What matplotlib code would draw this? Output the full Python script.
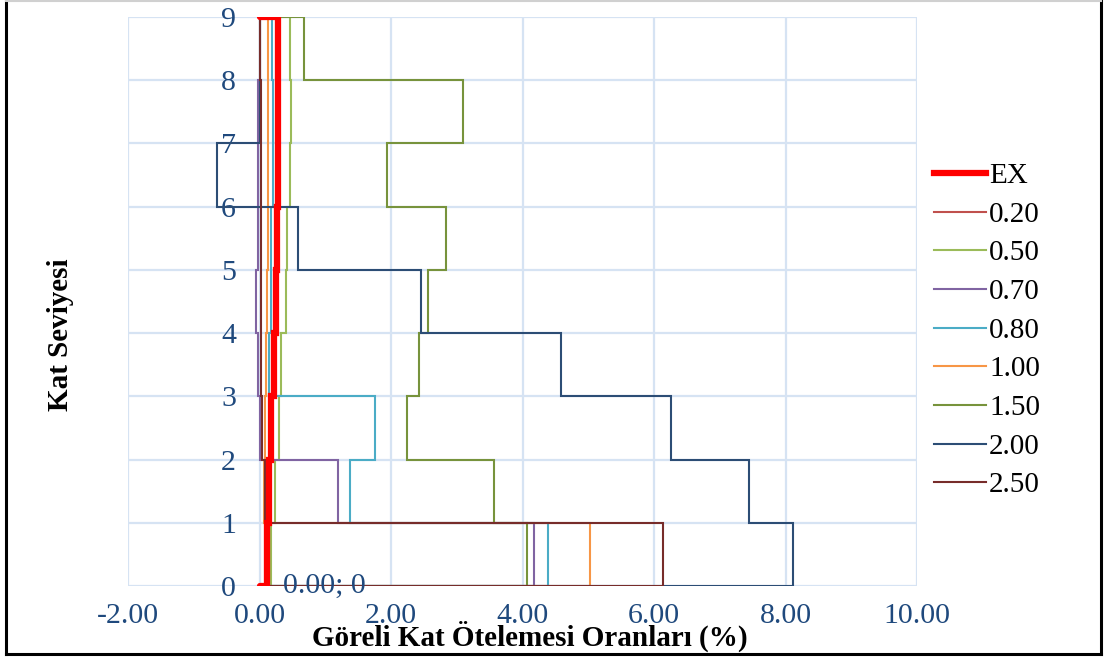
import numpy as np
import matplotlib
matplotlib.use("Agg")
import matplotlib.pyplot as plt
from matplotlib.lines import Line2D

plt.rcParams["font.family"] = ["Liberation Serif", "DejaVu Serif"]

# storey drift ratios (%) for storeys 1..9
floors = np.arange(0, 10)
labels = ["EX", "0.20", "0.50", "0.70", "0.80", "1.00", "1.50", "2.00", "2.50"]
drift_ex  = [0.11, 0.14, 0.18, 0.22, 0.25, 0.27, 0.28, 0.28, 0.28]
drift_020 = [0.09, 0.12, 0.16, 0.19, 0.22, 0.24, 0.25, 0.25, 0.25]
drift_050 = [0.17, 0.23, 0.29, 0.33, 0.40, 0.42, 0.47, 0.48, 0.47]
drift_070 = [4.18, 1.20, 0.01, -0.03, -0.05, -0.03, -0.03, -0.03, 0.01]
drift_080 = [4.39, 1.37, 1.75, 0.14, 0.17, 0.18, 0.20, 0.20, 0.19]
drift_100 = [5.03, 0.07, 0.08, 0.10, 0.12, 0.13, 0.13, 0.13, 0.13]
drift_150 = [4.07, 3.57, 2.25, 2.42, 2.57, 2.84, 1.94, 3.10, 0.67]
drift_200 = [8.12, 7.45, 6.26, 4.59, 2.45, 0.58, -0.65, 0.01, 0.01]
drift_250 = [6.14, 0.09, 0.04, 0.03, 0.03, 0.03, 0.03, 0.02, 0.01]

series = [drift_ex, drift_020, drift_050, drift_070, drift_080,
          drift_100, drift_150, drift_200, drift_250]
colors = ["#FF0000", "#C0504D", "#9BBB59", "#8064A2", "#4BACC6",
          "#F79646", "#77933C", "#2C4D75", "#772C2A"]
widths = [4.5, 1.5, 1.5, 1.5, 1.5, 1.5, 1.5, 1.5, 1.5]

tick_col = "#1F497D"
grid_col = "#D6E3F3"


def step_profile(d):
    # each storey drift drawn as a vertical segment between its two floor levels
    d = np.asarray(d)
    xs = np.concatenate(([0.0], np.repeat(d, 2), [0.0]))
    ys = np.concatenate(([0.0], np.repeat(floors, 2)[1:-1], [floors[-1]]))
    return xs, ys


fig = plt.figure(figsize=(11.07, 6.61), dpi=100)
ax = fig.add_axes([128 / 1107, 1 - 586 / 661, (917 - 128) / 1107, (586 - 17) / 661])

order = list(range(1, len(series))) + [0]
for i in order:
    xs, ys = step_profile(series[i])
    ax.plot(xs, ys, color=colors[i], lw=widths[i], zorder=5 if i == 0 else 3,
            solid_capstyle="round" if i == 0 else "projecting",
            solid_joinstyle="miter")

ax.set_xlim(-2, 10)
ax.set_ylim(0, 9)
ax.set_xticks(np.arange(-2, 10.01, 2))
ax.set_xticklabels([f"{v:.2f}" for v in np.arange(-2, 10.01, 2)])
ax.set_yticks(floors)
ax.grid(True, color=grid_col, lw=1.6, zorder=0)
ax.set_axisbelow(True)

for s in ax.spines.values():
    s.set_color("none")
ax.spines["left"].set_position(("data", 0))
ax.tick_params(axis="both", length=0, labelsize=21.5, labelcolor=tick_col)
ax.tick_params(axis="x", pad=12)
ax.tick_params(axis="y", pad=17)

ax.text(0.36, 0, "0.00; 0", color=tick_col, fontsize=21.5, ha="left", va="center",
        zorder=6)

fig.text(60 / 1107, 1 - 335 / 661, "Kat Seviyesi", rotation=90, fontsize=21,
         fontweight="bold", ha="center", va="center")
fig.text(530 / 1107, 1 - 636 / 661, "Göreli Kat Ötelemesi Oranları (%)",
         fontsize=21, fontweight="bold", ha="center", va="center")

handles = [Line2D([0], [0], color=c, lw=w) for c, w in zip(colors, widths)]
fig.legend(handles, labels, loc="upper left", bbox_to_anchor=(922 / 1107, 1 - 151 / 661),
           frameon=False, fontsize=21, handlelength=1.8, handletextpad=0.1,
           labelspacing=0.42, borderaxespad=0)

# outer frame
fig.add_artist(Line2D([6 / 1107, 6 / 1107], [1 - 654 / 661, 1 - 1 / 661], color="black", lw=2.2))
fig.add_artist(Line2D([1101 / 1107, 1101 / 1107], [1 - 654 / 661, 1 - 1 / 661], color="black", lw=2.2))
fig.add_artist(Line2D([6 / 1107, 1101 / 1107], [1 - 654 / 661, 1 - 654 / 661], color="black", lw=2.2))
fig.add_artist(Line2D([6 / 1107, 1101 / 1107], [1 - 1 / 661, 1 - 1 / 661], color="#D0D0D0", lw=1.5))

fig.savefig("out.png", dpi=100)
